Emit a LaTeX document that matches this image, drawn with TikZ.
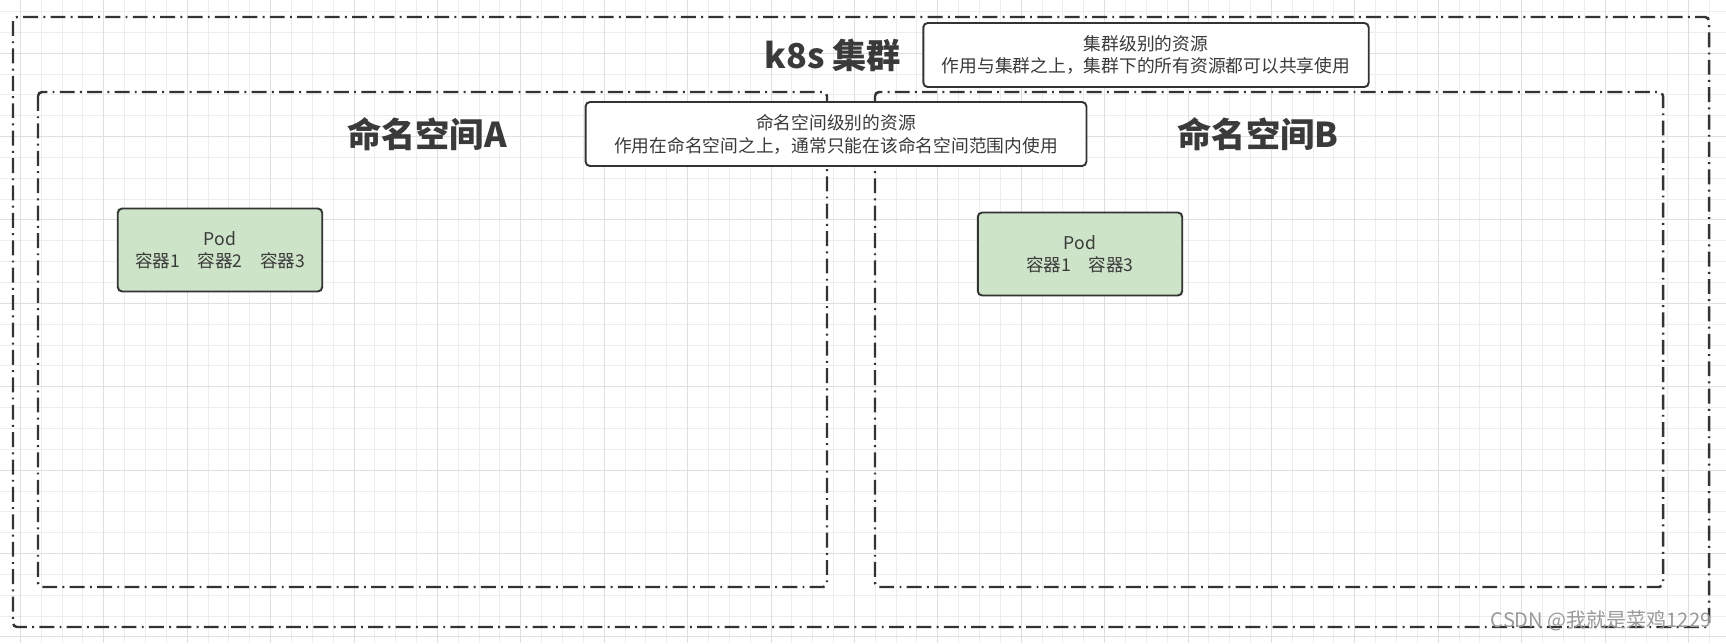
\documentclass[tikz,border=0pt]{standalone}
\usepackage{fontspec}
\setmainfont{Noto Sans CJK SC}
\definecolor{linegray}{HTML}{333333}
\definecolor{textgray}{HTML}{3A3A3A}
\definecolor{gridminor}{HTML}{EDEDED}
\definecolor{gridmajor}{HTML}{DFDFDF}
\definecolor{podgreen}{RGB}{205,228,200}

\begin{document}
\begin{tikzpicture}[x=0.02cm, y=-0.02cm,
    frame/.style={draw=linegray, line width=1.4pt, rounded corners=2.3pt,
        dash pattern=on 8.5pt off 3pt on 1.1pt off 3pt},
    note/.style={draw=linegray, fill=white, line width=1.1pt, rounded corners=2.5pt,
        text=textgray, align=center, minimum height=1.28cm,
        font=\fontsize{10.1}{13}\selectfont},
    pod/.style={draw=linegray, fill=podgreen, line width=1.1pt, rounded corners=2.5pt,
        text=textgray, align=center, minimum width=4.09cm, minimum height=1.66cm,
        font=\fontsize{10}{12.5}\selectfont},
    title/.style={text=textgray, font=\bfseries\fontsize{19.5}{23}\selectfont}]
    \useasboundingbox (0,0) rectangle (1726,643);

    % Draw paper and grid
    \fill[white] (0,0) rectangle (1726,643);
    \foreach \i in {0,...,83}
        \draw[gridminor, line width=0.5pt] ({\i*20.85-0.5},0) -- ({\i*20.85-0.5},643);
    \foreach \j in {0,...,31}
        \draw[gridminor, line width=0.5pt] (0,{\j*20.85-9.45}) -- (1726,{\j*20.85-9.45});
    \foreach \i in {1,5,...,81}
        \draw[gridmajor, line width=0.5pt] ({\i*20.85-0.5},0) -- ({\i*20.85-0.5},643);
    \foreach \j in {3,7,...,31}
        \draw[gridmajor, line width=0.5pt] (0,{\j*20.85-9.45}) -- (1726,{\j*20.85-9.45});

    % Draw cluster and namespaces
    \draw[frame] (13,17) rectangle (1709,627);
    \draw[frame] (38,92) rectangle (827,587);
    \draw[frame] (875,92) rectangle (1663,587);

    % Draw titles
    \node[title] (cluster) at (833,55) {k8s 集群};
    \node[title] (nsA) at (427,134) {命名空间A};
    \node[title] (nsB) at (1258,134) {命名空间B};

    % Draw notes
    \node[note, minimum width=8.91cm] (clusternote) at (1146,55)
        {集群级别的资源\\作用与集群之上，集群下的所有资源都可以共享使用};
    \node[note, minimum width=10.02cm] (nsnote) at (836,134)
        {命名空间级别的资源\\作用在命名空间之上，通常只能在该命名空间范围内使用};

    % Draw pods
    \node[pod] (podA) at (220,250) {Pod\\容器1\quad 容器2\quad 容器3};
    \node[pod] (podB) at (1080,254) {Pod\\容器1\quad 容器3};

    % Draw watermark
    \node[text=gray!80, font=\fontsize{11.4}{13}\selectfont] (mark) at (1601,621)
        {CSDN @我就是菜鸡1229};
\end{tikzpicture}
\end{document}
